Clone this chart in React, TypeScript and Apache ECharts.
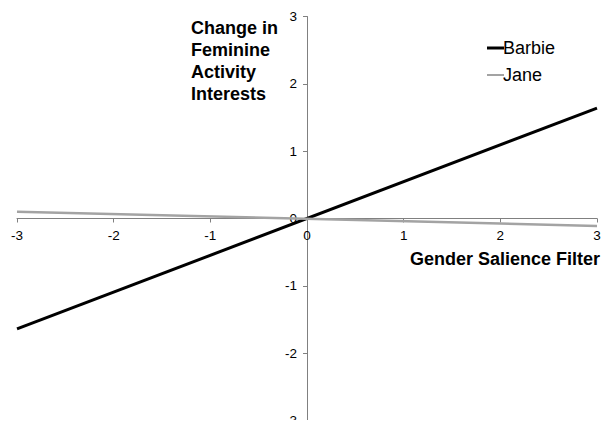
import React, { useEffect, useRef } from "react";
import * as echarts from "echarts";

const xPoints = [-3, 3];
const barbieValues = [-1.64, 1.64];
const janeValues = [0.1, -0.11];
const seriesNames = ["Barbie", "Jane"];
const yTitleLines = ["Change in", "Feminine", "Activity", "Interests"];
const xTitle = "Gender Salience Filter";

const FONT = "Liberation Sans, Arial, sans-serif";

const GRID_LEFT = 17;
const GRID_RIGHT = 19;
const GRID_TOP = 16.5;
const GRID_BOTTOM = 7.5;
const W = 616;
const H = 428;

export default function App() {
  const ref = useRef<HTMLDivElement>(null);
  useEffect(() => {
    if (!ref.current) return;
    const chart = echarts.init(ref.current, undefined, { renderer: "svg" });
    const gw = W - GRID_LEFT - GRID_RIGHT;
    const gh = H - GRID_TOP - GRID_BOTTOM;
    const axisCommon = {
      type: "value" as const,
      min: -3,
      max: 3,
      interval: 1,
      splitLine: { show: false },
      axisLine: { onZero: false, lineStyle: { color: "#808080", width: 1 } },
      axisTick: { show: true, length: 4, lineStyle: { color: "#808080" } },
    };
    chart.setOption({
      animation: false,
      backgroundColor: "#ffffff",
      grid: {
        left: GRID_LEFT,
        right: GRID_RIGHT,
        top: GRID_TOP,
        bottom: GRID_BOTTOM,
        containLabel: false,
        outerBoundsMode: "none",
      },
      xAxis: {
        ...axisCommon,
        position: "bottom",
        offset: -gh / 2,
        axisLabel: { fontFamily: FONT, fontSize: 13.5, color: "#000", margin: 10 },
      },
      yAxis: {
        ...axisCommon,
        position: "left",
        offset: -gw / 2,
        axisLabel: { fontFamily: FONT, fontSize: 13.5, color: "#000", margin: 10 },
      },
      legend: {
        orient: "vertical",
        left: 482,
        top: 34,
        itemWidth: 17,
        itemHeight: 14,
        itemGap: 9,
        textStyle: { fontFamily: FONT, fontSize: 18, color: "#000", padding: [0, 0, 0, -6] },
        itemStyle: { borderWidth: 0 },
        data: [
          { name: seriesNames[0], icon: "path://M0,0H17V3H0Z" },
          { name: seriesNames[1], icon: "path://M0,0H17V2H0Z" },
        ],
      },
      series: [
        {
          name: seriesNames[0],
          type: "line",
          symbol: "none",
          data: xPoints.map((x, i) => [x, barbieValues[i]]),
          lineStyle: { color: "#000000", width: 3 },
          itemStyle: { color: "#000000" },
        },
        {
          name: seriesNames[1],
          type: "line",
          symbol: "none",
          data: xPoints.map((x, i) => [x, janeValues[i]]),
          lineStyle: { color: "#a3a3a3", width: 2.5 },
          itemStyle: { color: "#a3a3a3" },
        },
      ],
      graphic: [
        {
          type: "text",
          left: 191,
          top: 17,
          style: {
            text: yTitleLines.join("\n"),
            fontFamily: FONT,
            fontSize: 18,
            fontWeight: "bold",
            lineHeight: 22,
            fill: "#000",
          },
        },
        {
          type: "text",
          left: 410,
          top: 250,
          style: {
            text: xTitle,
            fontFamily: FONT,
            fontSize: 18,
            fontWeight: "bold",
            fill: "#000",
          },
        },
      ],
    });
    return () => chart.dispose();
  }, []);
  return <div ref={ref} style={{ width: W, height: H, margin: -8 }} />;
}
